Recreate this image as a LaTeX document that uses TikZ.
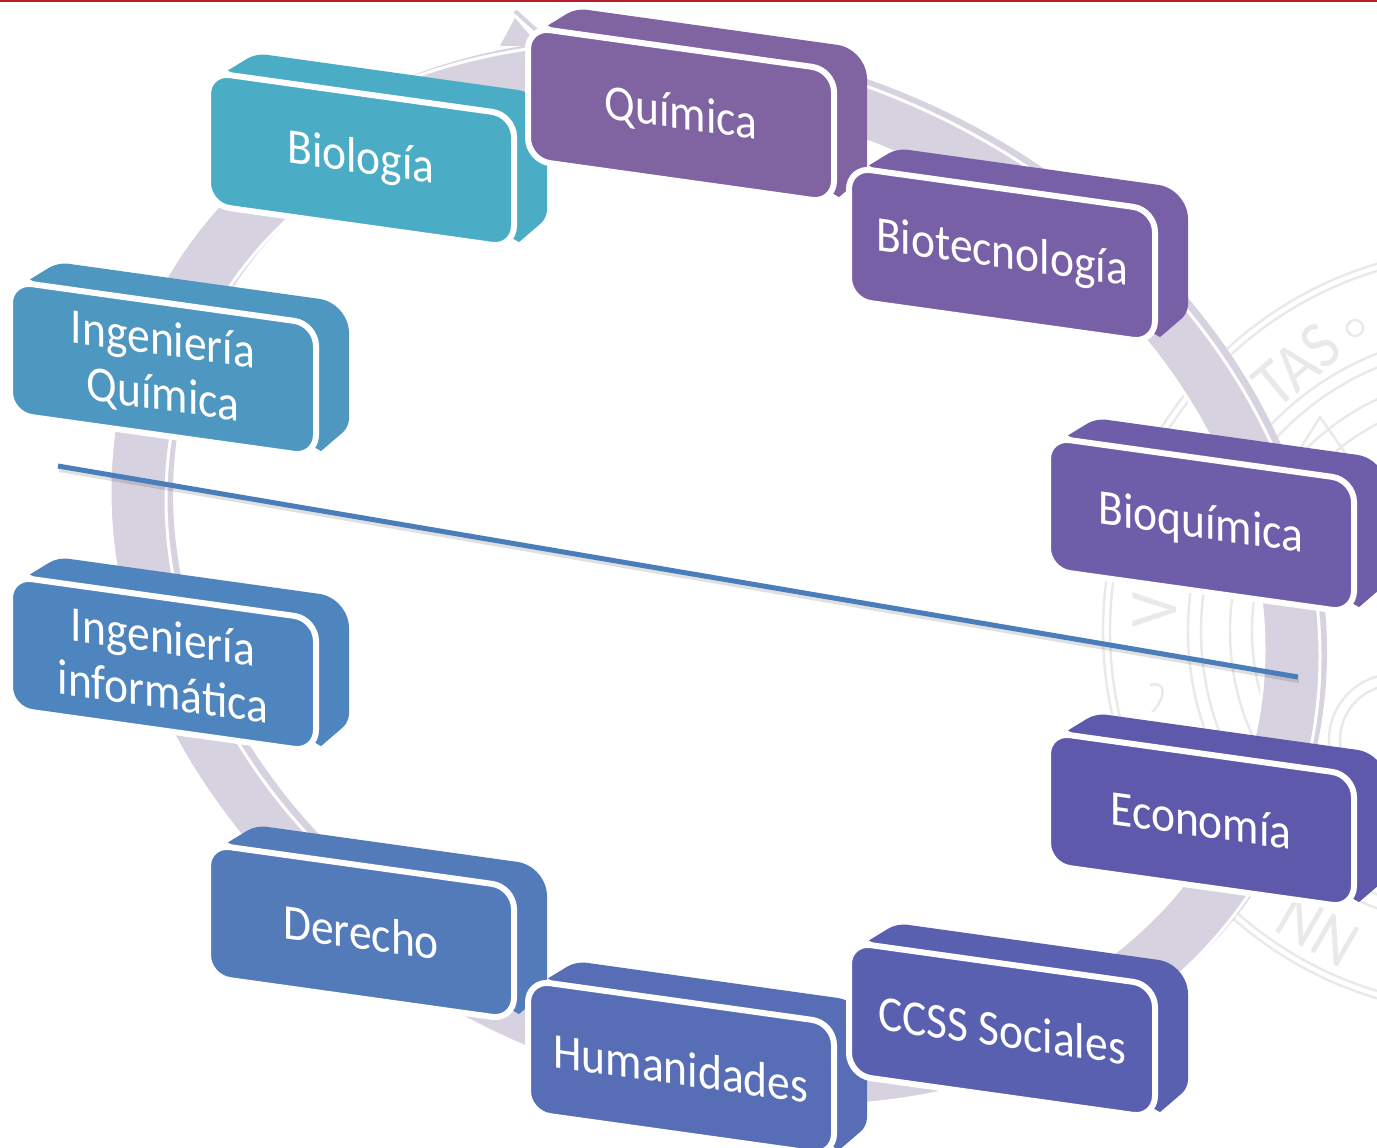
\documentclass[tikz,border=0pt]{standalone}
\usepackage{fontspec}
\setmainfont[FakeStretch=0.91]{Carlito}
\usetikzlibrary{positioning}
\definecolor{ringc}{HTML}{D7D2E0}
\definecolor{sealc}{HTML}{E9E9E9}
\definecolor{linec}{HTML}{4A7EBB}
\definecolor{topc}{HTML}{B5202A}
\definecolor{blocka}{HTML}{4BACC6}
\definecolor{blockb}{HTML}{8064A2}
\definecolor{blockc}{HTML}{7860A6}
\definecolor{blockd}{HTML}{6E5EA9}
\definecolor{blocke}{HTML}{5F59AC}
\definecolor{blockf}{HTML}{5A60B0}
\definecolor{blockg}{HTML}{576EB6}
\definecolor{blockh}{HTML}{537BBA}
\definecolor{blocki}{HTML}{4F85BE}
\definecolor{blockj}{HTML}{4E97C1}
\tikzset{
face/.style = {draw=white, line width=6pt, rectangle, rounded corners=22pt, minimum width=306pt, minimum height=133pt, inner sep=0pt, transform shape, text=white, align=center, font=\fontsize{50}{55}\selectfont},
band/.style = {fill=ringc, even odd rule},
seal/.style = {draw=sealc, line width=2.4pt},
sealtext/.style = {text=sealc, font=\fontsize{68}{68}\selectfont}
}
% name, x, y, colour, text
\newcommand{\slantblock}[5]{
    \begin{scope}[shift={(#2,#3)}, yslant=-0.14]
    \fill [#4] (-133,-71) [rounded corners=10pt] -- (-105,-92) [rounded corners=30pt] -- (186,-92) [rounded corners=8pt] -- (186,32) [sharp corners] -- (158,60) -- cycle;
    \node [face, fill=#4] (#1) at (0,0) {#5};
    \end{scope}
}
\begin{document}
\begin{tikzpicture}[x=1pt, y=-1pt]
    \clip (0,0) rectangle (1377,1148);
    \fill [white] (0,0) rectangle (1377,1148);
    \fill [topc] (0,0) rectangle (1377,2);

    % The seal behind the ring
    \coordinate (sealmid) at (1486,631);
    \foreach \r in {383,376,298,285,256,234}
        \draw [seal] (sealmid) circle [radius=\r];
    \node [sealtext, rotate=40] (tas) at (1297,365) {TAS};
    \node [sealtext, rotate=90] (vee) at (1155,610) {V};
    \node [sealtext, rotate=150] (enn) at (1318,930) {NN};
    \draw [seal] (1355,328) circle [radius=8];
    \draw [seal] (1395,740) circle [radius=66];
    \draw [seal] (1395,740) circle [radius=55];
    \draw [seal] (1290,465) -- (1320,417) -- (1350,460);
    \draw [seal] (1150,685) .. controls (1168,680) and (1165,700) .. (1152,712);

    % The ring goes under the blocks
    \begin{scope}[shift={(722,569)}, yslant=-0.137]
    \fill [band] (0,0) ellipse [x radius=605, y radius=525] (0,0) ellipse [x radius=549, y radius=472];
    \end{scope}
    \begin{scope}[shift={(715,574)}, yslant=-0.137]
    \draw [band, draw=white, line width=3pt] (0,0) ellipse [x radius=605, y radius=525] (0,0) ellipse [x radius=549, y radius=472];
    \end{scope}
    \coordinate (headtop) at (515,18);
    \coordinate (headend) at (524,46);
    \coordinate (headtip) at (560,70);
    \fill [ringc] (headtop) -- (headtip) -- (headend) -- (500,46) -- cycle;
    \draw [ringc, line width=4pt] (515,11) -- (537,31);

    % Then we place the blocks
    \slantblock{biologia}{361}{160}{blocka}{Biología}
    \slantblock{quimica}{681}{115}{blockb}{Química}
    \slantblock{biotec}{1002}{255}{blockc}{Biotecnología}
    \slantblock{bioquim}{1201}{525}{blockd}{Bioquímica}
    \slantblock{economia}{1201}{820}{blocke}{Economía}
    \slantblock{derecho}{361}{932}{blockh}{Derecho}
    \slantblock{humanid}{681}{1068}{blockg}{Humanidades}
    \slantblock{ccss}{1002}{1030}{blockf}{CCSS Sociales}
    \slantblock{inginf}{163}{664}{blocki}{Ingeniería\\informática}
    \slantblock{ingquim}{163}{369}{blockj}{Ingeniería\\Química}

    % The dividing line
    \coordinate (lineL) at (58,466);
    \coordinate (lineR) at (1298,677);
    \draw [black, opacity=0.12, line width=4pt] ([shift={(1,4)}]lineL) -- ([shift={(1,4)}]lineR);
    \draw [linec, line width=5pt] (lineL) -- (lineR);
\end{tikzpicture}
\end{document}
